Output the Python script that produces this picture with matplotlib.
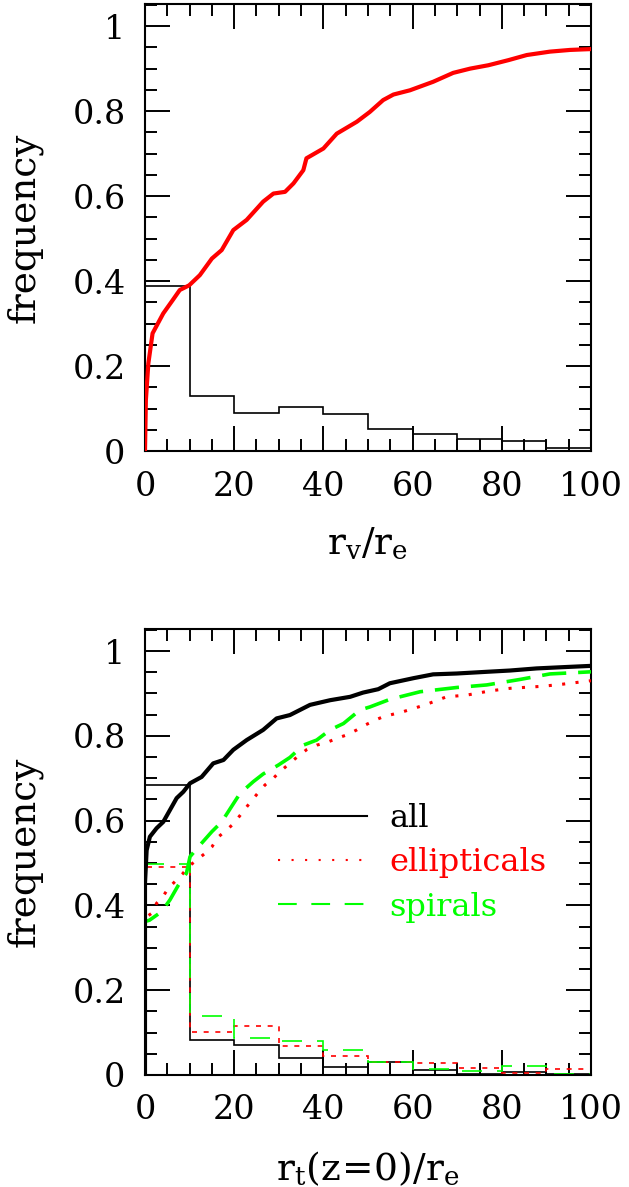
import numpy as np
import matplotlib
matplotlib.use("Agg")
import matplotlib.pyplot as plt
from matplotlib.lines import Line2D
from matplotlib.ticker import MultipleLocator

# ---- data ----
bin_edges = np.arange(0, 101, 10)
bin_edges_ext = np.arange(0, 111, 10)

# top panel: r_v / r_e
hist_rv = [0.388, 0.129, 0.090, 0.104, 0.087, 0.053, 0.040, 0.028, 0.024, 0.008]
cdf_rv_x = [0, 0.2, 0.75, 1.7, 4.1, 6.2, 7.8, 9.9, 12.3, 15.0, 17.2, 19.8, 22.8,
            26.5, 28.8, 31.4, 33.3, 35.5, 36.2, 40.0, 43.0, 47.5, 50.4, 53.4,
            55.7, 59.4, 64.6, 69.1, 72.9, 77.0, 81.5, 85.6, 90.8, 95.3, 100]
cdf_rv_y = [0, 0.12, 0.206, 0.277, 0.324, 0.355, 0.379, 0.39, 0.414, 0.453,
            0.473, 0.52, 0.544, 0.587, 0.606, 0.61, 0.63, 0.661, 0.689, 0.712,
            0.747, 0.775, 0.798, 0.826, 0.839, 0.849, 0.869, 0.89, 0.90, 0.908,
            0.92, 0.932, 0.94, 0.944, 0.946]

# bottom panel: r_t(z=0) / r_e
hist_all = [0.684, 0.0825, 0.071, 0.039, 0.018, 0.030, 0.012, 0.002, 0.006, 0.002]
hist_ell = [0.491, 0.102, 0.116, 0.069, 0.045, 0.031, 0.029, 0.016, 0.004, 0.014, 0.045]
hist_spi = [0.497, 0.140, 0.0865, 0.079, 0.058, 0.030, 0.014, 0.009, 0.022, 0.002, 0.05]

cdf_all_x = [0, 0, 0.37, 1.1, 2.6, 4.1, 5.6, 7.1, 8.6, 10.1, 12.7, 15.3, 17.6,
             19.8, 22.8, 26.5, 29.5, 32.5, 37.0, 41.5, 46.0, 48.9, 52.3, 54.9,
             60.2, 64.6, 69.9, 76.6, 81.8, 87.8, 93.8, 100]
cdf_all_y = [0, 0.452, 0.53, 0.562, 0.582, 0.597, 0.625, 0.653, 0.668, 0.688,
             0.703, 0.735, 0.743, 0.767, 0.79, 0.814, 0.841, 0.849, 0.873, 0.884,
             0.892, 0.902, 0.91, 0.924, 0.936, 0.945, 0.947, 0.951, 0.954, 0.959,
             0.962, 0.965]

cdf_ell_x = [0, 0, 1.7, 2.6, 4.1, 5.2, 6.7, 8.4, 9.7, 11.6, 13.5, 15.0, 16.4,
             18.3, 19.8, 21.3, 22.4, 23.9, 25.4, 26.9, 28.8, 29.9, 33.3, 36.2,
             38.5, 40.7, 43.0, 45.2, 47.5, 49.3, 51.6, 53.4, 57.9, 62.8, 67.6,
             72.1, 77.4, 81.8, 89.3, 93.8, 100]
cdf_ell_y = [0, 0.37, 0.383, 0.405, 0.422, 0.44, 0.456, 0.474, 0.491, 0.507,
             0.523, 0.538, 0.561, 0.578, 0.592, 0.612, 0.627, 0.647, 0.666,
             0.684, 0.70, 0.712, 0.743, 0.767, 0.778, 0.784, 0.794, 0.802, 0.814,
             0.825, 0.837, 0.845, 0.857, 0.873, 0.892, 0.896, 0.906, 0.912,
             0.917, 0.922, 0.93]

cdf_spi_x = [0, 0, 1.0, 3.7, 5.6, 7.5, 9.3, 10.1, 12.3, 15.0, 17.2, 19.4, 21.3,
             24.3, 26.5, 29.9, 32.5, 35.5, 38.5, 41.5, 44.5, 48.2, 50.4, 54.9,
             61.7, 69.9, 76.6, 84.1, 90.8, 100]
cdf_spi_y = [0, 0.362, 0.365, 0.385, 0.413, 0.448, 0.476, 0.515, 0.542, 0.574,
             0.597, 0.633, 0.664, 0.692, 0.71, 0.731, 0.749, 0.778, 0.79, 0.814,
             0.829, 0.861, 0.868, 0.886, 0.904, 0.914, 0.92, 0.933, 0.946, 0.951]

xticks = [0, 20, 40, 60, 80, 100]
yticks = [0, 0.2, 0.4, 0.6, 0.8, 1.0]
ytick_labels = ['0', '0.2', '0.4', '0.6', '0.8', '1']

RED = '#FF0000'
GREEN = '#00FF00'

plt.rcParams.update({
    'font.family': 'DejaVu Serif',
    'mathtext.fontset': 'dejavuserif',
    'font.size': 24,
})

fig = plt.figure(figsize=(6.29, 11.87), dpi=100)
ax1 = fig.add_axes([0.2305, 0.6200, 0.7091, 0.3766])
ax2 = fig.add_axes([0.2305, 0.0944, 0.7091, 0.3757])


def style_axis(ax):
    ax.set_xlim(0, 100)
    ax.set_ylim(0, 1.052)
    ax.set_xticks(xticks)
    ax.set_yticks(yticks)
    ax.set_yticklabels(ytick_labels)
    ax.xaxis.set_minor_locator(MultipleLocator(5))
    ax.yaxis.set_minor_locator(MultipleLocator(0.05))
    ax.tick_params(which='both', direction='in', top=True, right=True,
                   width=1.4, labelsize=24)
    ax.tick_params(which='major', length=18)
    ax.tick_params(which='minor', length=8.5)
    ax.tick_params(axis='x', pad=14)
    ax.tick_params(axis='y', pad=14)
    for sp in ax.spines.values():
        sp.set_linewidth(1.5)
    ax.set_ylabel('frequency', fontsize=27)
    ax.yaxis.set_label_coords(-0.229, 0.5)


# panel 1
ax1.stairs(hist_rv, bin_edges, color='black', linewidth=1.2, zorder=2)
ax1.plot(cdf_rv_x, cdf_rv_y, color=RED, linewidth=3, zorder=3,
         solid_joinstyle='round')
style_axis(ax1)
ax1.set_xlabel(r'$\mathrm{r_v/r_e}$', fontsize=27)
ax1.xaxis.set_label_coords(0.5, -0.168)

# panel 2
ax2.stairs(hist_all, bin_edges, color='black', linewidth=1.2, zorder=2)
ax2.stairs(hist_ell, bin_edges_ext, color=RED, linewidth=1.2,
           linestyle=(0, (3, 4)), zorder=2)
ax2.stairs(hist_spi, bin_edges_ext, color=GREEN, linewidth=1.2,
           linestyle=(0, (12, 9)), zorder=2)
ax2.plot(cdf_all_x, cdf_all_y, color='black', linewidth=3, zorder=4,
         solid_joinstyle='round')
ax2.plot(cdf_ell_x, cdf_ell_y, color=RED, linewidth=2.2,
         linestyle=(0, (1, 3.4)), zorder=3)
ax2.plot(cdf_spi_x, cdf_spi_y, color=GREEN, linewidth=2.6,
         linestyle=(0, (6.7, 3.3)), zorder=3)
style_axis(ax2)
ax2.set_xlabel(r'$\mathrm{r_t(z\!=\!0)/r_e}$', fontsize=27)
ax2.xaxis.set_label_coords(0.5, -0.168)

handles = [
    Line2D([], [], color='black', linewidth=1.5),
    Line2D([], [], color=RED, linewidth=1.5, linestyle=(0, (1, 5.5))),
    Line2D([], [], color=GREEN, linewidth=1.5, linestyle=(0, (9, 7))),
]
leg = ax2.legend(handles, ['all', 'ellipticals', 'spirals'],
                 loc='center left', bbox_to_anchor=(0.298, 0.476),
                 frameon=False, fontsize=23, handlelength=2.8,
                 handletextpad=0.7, labelspacing=0.42, borderpad=0,
                 borderaxespad=0, labelcolor=['black', RED, GREEN])

fig.savefig('out.png', dpi=100)
